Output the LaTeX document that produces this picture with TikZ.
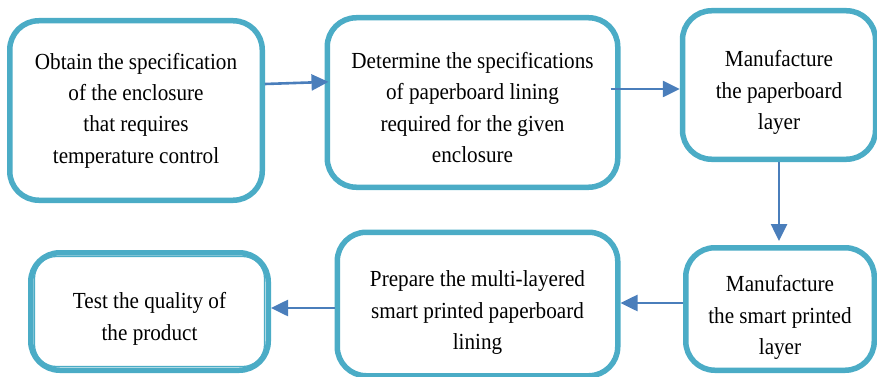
\documentclass[tikz,border=0pt]{standalone}
\usepackage{fontspec}
\setmainfont[FakeStretch=0.92]{Liberation Serif}
\usetikzlibrary{arrows.meta}

\definecolor{boxline}{RGB}{75,172,198}
\definecolor{flowblue}{RGB}{74,126,187}

\tikzset{
  stepbox/.style={draw=boxline, line width=5.5pt, rounded corners=29pt,
    fill=white, align=center, inner sep=0pt,
    font=\fontsize{23}{31.3}\selectfont},
  % a taller text box pushes the centred lines down a little
  toppad/.style={text height=#1},
  flow/.style={draw=flowblue, line width=2.6pt,
    -{Triangle[length=17pt,width=16pt]}},
}

\begin{document}
\begin{tikzpicture}[x=1pt,y=-1pt]
  \useasboundingbox (0,0) rectangle (877,377);

  % process steps, upper row
  \node[stepbox, minimum width=252.5pt, minimum height=179.5pt] (obtain) at (136,110.5)
    {Obtain the specification\\of the enclosure\\that requires\\temperature control};
  \node[stepbox, toppad=120pt, minimum width=290.5pt, minimum height=169.5pt] (determine) at (472.5,102.5)
    {Determine the specifications\\of paperboard lining\\required for the given\\enclosure};
  \node[stepbox, toppad=94pt, minimum width=193pt, minimum height=148.5pt] (board) at (779,85)
    {Manufacture\\the paperboard\\layer};

  % process steps, lower row
  \node[stepbox, toppad=96pt, minimum width=188.5pt, minimum height=122.5pt] (smart) at (780,309)
    {Manufacture\\the smart printed\\layer};
  \node[stepbox, toppad=96pt, minimum width=280.5pt, minimum height=143.5pt] (lining) at (477.5,304)
    {Prepare the multi-layered\\smart printed paperboard\\lining};
  \node[stepbox, toppad=62pt, minimum width=237.5pt, minimum height=117.5pt] (test) at (149.5,311.5)
    {Test the quality of\\the product};
  % inner rule of the double frame
  \draw[boxline, line width=1.2pt, rounded corners=22pt]
    ([shift={(6.5pt,-6.5pt)}]test.north west) rectangle ([shift={(-6.5pt,6.5pt)}]test.south east);

  % connectors
  \draw[flow, shorten >=-4pt] ([yshift=26.5pt]obtain.east) -- ([yshift=20.5pt]determine.west);
  \draw[flow, shorten <=-10pt] ([yshift=13.5pt]determine.east) -- ([yshift=13.5pt]determine.east -| board.west);
  \draw[flow, shorten >=4pt] (board.south) -- (board.south |- smart.north);
  \draw[flow] ([yshift=6pt]smart.west) -- ([yshift=6pt]smart.west -| lining.east);
  \draw[flow] ([yshift=-4pt]lining.west) -- ([yshift=-4pt]lining.west -| test.east);
\end{tikzpicture}
\end{document}
